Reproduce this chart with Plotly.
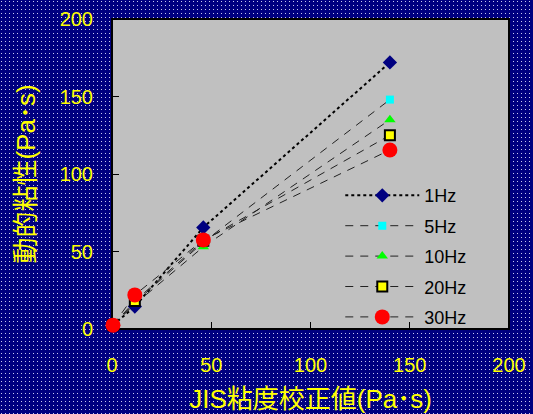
import base64
import plotly.graph_objects as go

# JIS calibration viscosity (x) and dynamic viscosity at each frequency (y), Pa·s
jis_values = [0.5, 11.5, 46, 140]
series_names = ["1Hz", "5Hz", "10Hz", "20Hz", "30Hz"]
visc_1hz = [2.5, 14.5, 65.5, 172]
visc_5hz = [2.5, 17, 56, 148]
visc_10hz = [2.5, 16, 53, 135]
visc_20hz = [2.5, 18, 57, 125]
visc_30hz = [2.5, 22, 57.5, 115.5]
x_ticks = [0, 50, 100, 150, 200]
y_ticks = [0, 50, 100, 150, 200]

W, H = 533, 414
ML, MR, MT, MB = 112, 24, 19, 85
PW, PH = W - ML - MR, H - MT - MB

series = [
    (series_names[0], visc_1hz, dict(symbol="diamond", size=11, color="#000080"),
     dict(color="black", width=2, dash="dot")),
    (series_names[1], visc_5hz, dict(symbol="square", size=8, color="#00FFFF"),
     dict(color="#222222", width=1, dash="8px,7px")),
    (series_names[2], visc_10hz, dict(symbol="triangle-up", size=10, color="#00FF00"),
     dict(color="#222222", width=1, dash="8px,7px")),
    (series_names[3], visc_20hz, dict(symbol="square", size=10, color="#FFFF00",
                                      line=dict(color="black", width=2)),
     dict(color="#222222", width=1, dash="8px,7px")),
    (series_names[4], visc_30hz, dict(symbol="circle", size=15, color="#FF0000"),
     dict(color="#222222", width=1, dash="8px,7px")),
]

fig = go.Figure()
for name, ys, marker, line in series:
    fig.add_trace(go.Scatter(
        x=jis_values, y=ys, name=name, legendgroup=name, mode="lines+markers",
        marker=marker, line=line, cliponaxis=False,
    ))

# dotted navy backdrop as an inline SVG tile pattern
svg = (
    f"<svg xmlns='http://www.w3.org/2000/svg' width='{W}' height='{H}' "
    f"viewBox='0 0 {W} {H}' preserveAspectRatio='none'>"
    "<defs><pattern id='p' width='4' height='4' patternUnits='userSpaceOnUse'>"
    "<rect width='4' height='4' fill='#000080'/>"
    "<rect x='1' y='1' width='1' height='1' fill='#c8c8f0'/>"
    "</pattern></defs>"
    f"<rect width='{W}' height='{H}' fill='url(#p)'/></svg>"
)
src = "data:image/svg+xml;base64," + base64.b64encode(svg.encode()).decode()
fig.add_layout_image(dict(
    source=src, xref="paper", yref="paper",
    x=-ML / PW, y=1 + MT / PH, sizex=W / PW, sizey=H / PH,
    xanchor="left", yanchor="top", sizing="stretch", layer="below",
))

# gray plotting area with black frame
fig.add_shape(type="rect", xref="paper", yref="paper", x0=0, x1=1, y0=0, y1=1,
              fillcolor="#C0C0C0", line=dict(color="black", width=2), layer="below")

tick_font = dict(family="Liberation Sans, Arial, sans-serif", size=20, color="#FFFF00")
title_font = dict(family="Liberation Sans, Noto Sans CJK JP, sans-serif", size=26, color="#FFFF00")

fig.update_xaxes(
    range=[0, 200], tickvals=x_ticks, ticks="inside", ticklen=7, tickcolor="black",
    tickwidth=1, showgrid=False, zeroline=False, showline=False,
    tickfont=tick_font, ticklabelstandoff=22,
    title=dict(text="JIS粘度校正値(Pa･s)", font=title_font, standoff=14),
)
fig.update_yaxes(
    range=[0, 200], tickvals=y_ticks, ticks="inside", ticklen=7, tickcolor="black",
    tickwidth=1, showgrid=False, zeroline=False, showline=False,
    tickfont=tick_font, ticklabelstandoff=18,
    title=dict(text="動的粘性(Pa･s)", font=title_font, standoff=16),
)

fig.update_layout(
    width=W, height=H,
    margin=dict(l=ML, r=MR, t=MT, b=MB, autoexpand=False),
    paper_bgcolor="#000080", plot_bgcolor="rgba(0,0,0,0)",
    showlegend=True,
    legend=dict(
        x=0.575, y=0.49, xanchor="left", yanchor="top",
        bgcolor="rgba(0,0,0,0)", borderwidth=0,
        font=dict(family="Liberation Sans, Arial, sans-serif", size=18, color="black"),
        itemwidth=74, tracegroupgap=4,
    ),
)

fig.write_html("out.html")
